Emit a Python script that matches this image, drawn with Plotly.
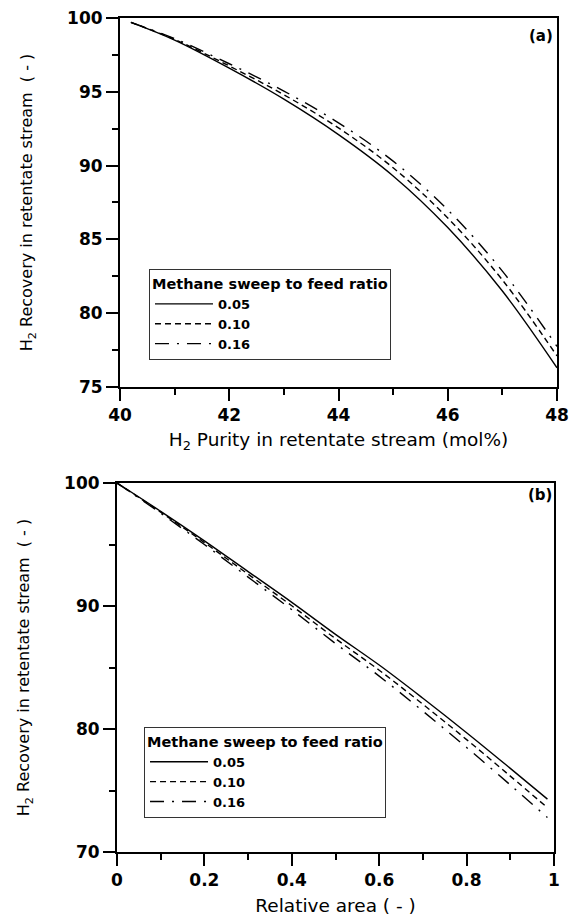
import plotly.graph_objects as go

# ---- data panel (a) ----
purity = [40.2, 41, 42, 43, 44, 45, 46, 47, 48]
rec_a_005 = [99.7, 98.5, 96.6, 94.5, 92.1, 89.3, 85.8, 81.5, 76.3]
rec_a_010 = [99.7, 98.55, 96.75, 94.8, 92.55, 89.85, 86.45, 82.25, 77.1]
rec_a_016 = [99.7, 98.6, 96.9, 95.05, 92.9, 90.3, 87.0, 82.85, 77.75]

# ---- data panel (b) ----
rel_area = [0, 0.1, 0.2, 0.3, 0.4, 0.5, 0.6, 0.7, 0.8, 0.9, 0.985]
rec_b_005 = [100, 97.7, 95.3, 92.8, 90.3, 87.7, 85.2, 82.5, 79.7, 76.8, 74.3]
rec_b_010 = [100, 97.63, 95.16, 92.59, 90.02, 87.35, 84.78, 82.01, 79.14, 76.17, 73.6]
rec_b_016 = [100, 97.55, 95.0, 92.35, 89.7, 86.95, 84.3, 81.45, 78.5, 75.45, 72.8]

labels = ["0.05", "0.10", "0.16"]
legend_title = "Methane sweep to feed ratio"

FONT = "DejaVu Sans"
dashes = ["solid", "6px,4px", "14px,8px,2px,8px"]

fig = go.Figure()
for lab, ys, d in zip(labels, [rec_a_005, rec_a_010, rec_a_016], dashes):
    fig.add_trace(go.Scatter(x=purity, y=ys, mode="lines", name=lab,
                             line=dict(color="black", width=1.4, dash=d, shape="spline"),
                             xaxis="x", yaxis="y", legend="legend"))
for lab, ys, d in zip(labels, [rec_b_005, rec_b_010, rec_b_016], dashes):
    fig.add_trace(go.Scatter(x=rel_area, y=ys, mode="lines", name=lab,
                             line=dict(color="black", width=1.4, dash=d, shape="spline"),
                             xaxis="x2", yaxis="y2", legend="legend2"))

tickfont = dict(family=FONT, size=17, color="black", weight="bold")

def axis_common():
    return dict(showline=True, linewidth=2, linecolor="black", mirror=True,
                ticks="outside", ticklen=12, tickwidth=2, tickcolor="black",
                showgrid=False, zeroline=False, tickfont=tickfont)

def minor(dt):
    return dict(dtick=dt, ticks="outside", ticklen=6, tickwidth=2,
                tickcolor="black", showgrid=False)

xa = axis_common()
xa.update(domain=[3/440, 1], anchor="y", range=[40, 48], tick0=40, dtick=2, minor=minor(1),
          title=dict(text="H<sub>2</sub> Purity in retentate stream (mol%)",
                     font=dict(family=FONT, size=18.5, color="black"), standoff=9))
ya = axis_common()
ya.update(domain=[0.5576, 1], anchor="x", range=[75, 100], tick0=75, dtick=5, minor=minor(2.5),
          title=dict(text="H<sub>2</sub> Recovery in retentate stream  ( - )",
                     font=dict(family=FONT, size=16, color="black"), standoff=30))
xb = axis_common()
xb.update(domain=[0, 437/440], anchor="y2", range=[0, 1], tick0=0, dtick=0.2, minor=minor(0.1),
          title=dict(text="Relative area ( - )",
                     font=dict(family=FONT, size=18.5, color="black"), standoff=10))
yb = axis_common()
yb.update(domain=[0, 0.4424], anchor="x2", range=[70, 100], tick0=70, dtick=10, minor=minor(5),
          title=dict(text="H<sub>2</sub> Recovery in retentate stream  ( - )",
                     font=dict(family=FONT, size=16, color="black"), standoff=30))

itemfont = dict(family=FONT, size=13, color="black", weight="bold")
titlefont = dict(family=FONT, size=14.5, color="black", weight="bold")
leg_common = dict(xanchor="left", yanchor="top", bgcolor="white",
                  bordercolor="#333", borderwidth=1, font=itemfont, itemwidth=58,
                  title=dict(text=legend_title, font=titlefont), tracegroupgap=0)

fig.update_layout(
    width=570, height=916,
    margin=dict(l=117, r=13, t=18, b=64, autoexpand=False),
    paper_bgcolor="white", plot_bgcolor="white",
    xaxis=xa, yaxis=ya, xaxis2=xb, yaxis2=yb,
    legend=dict(x=0.0727, y=0.699, **leg_common),
    legend2=dict(x=0.0614, y=0.15, **leg_common),
    annotations=[
        dict(text="(a)", x=0.995, y=0.992, xref="paper", yref="paper",
             xanchor="right", yanchor="top", showarrow=False,
             font=dict(family=FONT, size=15, color="black", weight="bold")),
        dict(text="(b)", x=0.993, y=0.4415, xref="paper", yref="paper",
             xanchor="right", yanchor="top", showarrow=False,
             font=dict(family=FONT, size=15, color="black", weight="bold")),
    ],
)

fig.write_html("out.html")
